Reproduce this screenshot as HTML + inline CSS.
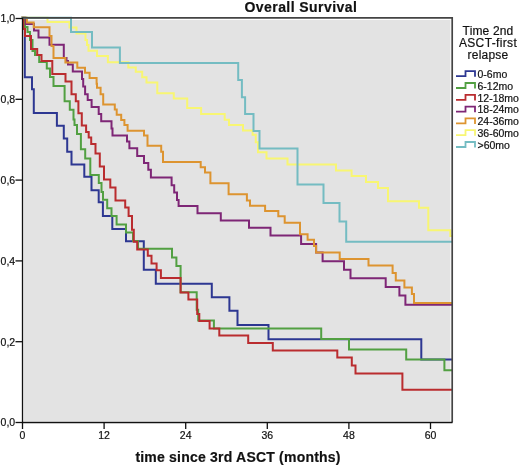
<!DOCTYPE html>
<html><head><meta charset="utf-8"><style>
html,body{margin:0;padding:0;background:#fff;width:520px;height:466px;overflow:hidden}
svg{display:block}
text{font-family:"Liberation Sans",sans-serif;fill:#111;stroke:#111;stroke-width:0.2px}
.t10{font-size:10.5px}
.t11{font-size:10.5px}
.t12{font-size:12px}
.tb14{font-size:14px;font-weight:bold}
</style></head><body>
<svg width="520" height="466" viewBox="0 0 520 466">
<rect x="0" y="0" width="520" height="466" fill="#ffffff"/>
<rect x="23.6" y="20" width="426.8" height="401.2" fill="#e3e3e3"/>
<path d="M22.5,17.8 L24.8,17.8 L24.8,77.2 L32.0,77.2 L32.0,89.2 L33.8,89.2 L33.8,113.0 L56.9,113.0 L56.9,125.8 L63.8,125.8 L63.8,138.5 L67.2,138.5 L67.2,151.8 L71.5,151.8 L71.5,164.6 L84.3,164.6 L84.3,176.7 L91.5,176.7 L91.5,190.2 L98.7,190.2 L98.7,202.3 L102.9,202.3 L102.9,216.0 L112.3,216.0 L112.3,228.9 L126.0,228.9 L126.0,241.3 L143.8,241.3 L143.8,269.8 L155.8,269.8 L155.8,283.8 L211.8,283.8 L211.8,297.3 L229.4,297.3 L229.4,310.8 L237.5,310.8 L237.5,324.9 L268.5,324.9 L268.5,339.2 L421.3,339.2 L421.3,359.6 L452.0,359.6" fill="none" stroke="#2d3792" stroke-width="2" stroke-linejoin="miter" stroke-linecap="square"/>
<path d="M22.5,17.8 L25.0,17.8 L25.0,27.0 L27.5,27.0 L27.5,32.0 L30.0,32.0 L30.0,40.0 L32.5,40.0 L32.5,51.0 L35.0,51.0 L35.0,55.0 L39.2,55.0 L39.2,62.0 L46.8,62.0 L46.8,68.5 L50.0,68.5 L50.0,77.0 L53.5,77.0 L53.5,86.0 L64.6,86.0 L64.6,101.2 L69.8,101.2 L69.8,109.8 L73.5,109.8 L73.5,119.5 L74.5,119.5 L74.5,125.0 L77.0,125.0 L77.0,134.0 L80.9,134.0 L80.9,149.2 L85.2,149.2 L85.2,158.6 L90.3,158.6 L90.3,175.0 L98.8,175.0 L98.8,183.0 L101.5,183.0 L101.5,192.0 L103.0,192.0 L103.0,199.7 L107.2,199.7 L107.2,208.3 L111.5,208.3 L111.5,216.0 L116.6,216.0 L116.6,224.6 L126.0,224.6 L126.0,232.4 L133.0,232.4 L133.0,241.0 L138.0,241.0 L138.0,248.7 L172.0,248.7 L172.0,257.5 L176.4,257.5 L176.4,266.0 L180.6,266.0 L180.6,292.3 L196.7,292.3 L196.7,309.7 L198.2,309.7 L198.2,320.4 L213.9,320.4 L213.9,328.4 L321.2,328.4 L321.2,339.0 L349.0,339.0 L349.0,349.5 L406.2,349.5 L406.2,359.6 L444.4,359.6 L444.4,370.2 L452.0,370.2" fill="none" stroke="#52a042" stroke-width="2" stroke-linejoin="miter" stroke-linecap="square"/>
<path d="M22.5,17.8 L23.4,17.8 L23.4,29.0 L25.0,29.0 L25.0,36.0 L31.0,36.0 L31.0,48.9 L37.2,48.9 L37.2,54.9 L41.5,54.9 L41.5,61.0 L52.3,61.0 L52.3,74.0 L65.5,74.0 L65.5,81.5 L71.5,81.5 L71.5,94.3 L75.8,94.3 L75.8,101.2 L78.4,101.2 L78.4,113.2 L81.8,113.2 L81.8,125.5 L86.1,125.5 L86.1,132.0 L88.7,132.0 L88.7,137.5 L91.2,137.5 L91.2,144.0 L95.5,144.0 L95.5,153.5 L99.8,153.5 L99.8,166.4 L104.0,166.4 L104.0,179.5 L110.3,179.5 L110.3,187.5 L115.5,187.5 L115.5,200.6 L125.2,200.6 L125.2,207.5 L128.6,207.5 L128.6,216.0 L132.0,216.0 L132.0,229.8 L133.8,229.8 L133.8,241.8 L137.2,241.8 L137.2,249.5 L147.8,249.5 L147.8,255.7 L151.5,255.7 L151.5,263.5 L156.6,263.5 L156.6,270.3 L160.9,270.3 L160.9,278.0 L180.6,278.0 L180.6,292.5 L188.4,292.5 L188.4,299.5 L197.2,299.5 L197.2,314.0 L199.3,314.0 L199.3,320.9 L209.6,320.9 L209.6,328.4 L219.3,328.4 L219.3,335.5 L248.2,335.5 L248.2,343.0 L272.8,343.0 L272.8,350.5 L337.3,350.5 L337.3,357.5 L351.8,357.5 L351.8,365.5 L355.5,365.5 L355.5,373.5 L402.4,373.5 L402.4,389.8 L452.0,389.8" fill="none" stroke="#ba2c2f" stroke-width="2" stroke-linejoin="miter" stroke-linecap="square"/>
<path d="M22.5,17.8 L26.0,17.8 L26.0,24.0 L34.0,24.0 L34.0,30.5 L38.5,30.5 L38.5,37.5 L49.5,37.5 L49.5,44.7 L63.8,44.7 L63.8,58.0 L66.5,58.0 L66.5,61.0 L68.0,61.0 L68.0,64.5 L72.8,64.5 L72.8,71.5 L82.0,71.5 L82.0,79.0 L83.2,79.0 L83.2,86.4 L85.1,86.4 L85.1,94.2 L87.7,94.2 L87.7,100.0 L91.6,100.0 L91.6,107.0 L98.7,107.0 L98.7,114.1 L101.2,114.1 L101.2,121.2 L111.5,121.2 L111.5,128.5 L112.5,128.5 L112.5,135.4 L127.0,135.4 L127.0,141.5 L129.4,141.5 L129.4,148.3 L137.2,148.3 L137.2,156.0 L144.0,156.0 L144.0,163.0 L148.3,163.0 L148.3,169.8 L150.9,169.8 L150.9,177.5 L171.6,177.5 L171.6,185.2 L174.2,185.2 L174.2,192.5 L177.0,192.5 L177.0,200.0 L178.6,200.0 L178.6,206.1 L197.5,206.1 L197.5,213.2 L220.8,213.2 L220.8,220.6 L249.0,220.6 L249.0,227.8 L270.5,227.8 L270.5,235.4 L301.1,235.4 L301.1,244.0 L316.1,244.0 L316.1,252.6 L322.6,252.6 L322.6,261.2 L344.0,261.2 L344.0,269.7 L350.5,269.7 L350.5,278.3 L385.7,278.3 L385.7,286.9 L399.4,286.9 L399.4,295.5 L405.4,295.5 L405.4,304.7 L452.0,304.7" fill="none" stroke="#7e2676" stroke-width="2" stroke-linejoin="miter" stroke-linecap="square"/>
<path d="M22.5,17.8 L26.9,17.8 L26.9,22.4 L33.7,22.4 L33.7,27.2 L49.5,27.2 L49.5,36.0 L51.5,36.0 L51.5,46.0 L53.5,46.0 L53.5,58.0 L65.4,58.0 L65.4,62.5 L77.3,62.5 L77.3,67.7 L85.0,67.7 L85.0,72.8 L89.6,72.8 L89.6,78.0 L96.6,78.0 L96.6,83.8 L97.0,83.8 L97.0,87.7 L100.6,87.7 L100.6,94.2 L103.2,94.2 L103.2,104.5 L114.8,104.5 L114.8,109.6 L116.7,109.6 L116.7,114.8 L121.2,114.8 L121.2,119.9 L124.4,119.9 L124.4,125.0 L127.6,125.0 L127.6,130.7 L144.0,130.7 L144.0,135.5 L147.5,135.5 L147.5,145.8 L161.2,145.8 L161.2,151.8 L163.0,151.8 L163.0,162.1 L200.7,162.1 L200.7,167.2 L205.0,167.2 L205.0,172.5 L210.4,172.5 L210.4,183.3 L228.6,183.3 L228.6,194.2 L246.9,194.2 L246.9,200.4 L250.0,200.4 L250.0,205.8 L265.1,205.8 L265.1,211.0 L278.3,211.0 L278.3,216.3 L284.7,216.3 L284.7,222.7 L300.0,222.7 L300.0,234.3 L307.6,234.3 L307.6,239.7 L314.0,239.7 L314.0,246.1 L316.1,246.1 L316.1,252.6 L339.7,252.6 L339.7,259.0 L368.5,259.0 L368.5,265.6 L392.6,265.6 L392.6,272.9 L395.8,272.9 L395.8,280.4 L404.4,280.4 L404.4,287.5 L411.9,287.5 L411.9,294.0 L414.0,294.0 L414.0,303.0 L452.0,303.0" fill="none" stroke="#dd9430" stroke-width="2" stroke-linejoin="miter" stroke-linecap="square"/>
<path d="M22.5,17.8 L47.5,17.8 L47.5,22.0 L69.5,22.0 L69.5,27.5 L76.5,27.5 L76.5,33.5 L85.5,33.5 L85.5,40.0 L87.0,40.0 L87.0,45.0 L88.5,45.0 L88.5,50.8 L97.0,50.8 L97.0,56.0 L107.9,56.0 L107.9,62.2 L128.3,62.2 L128.3,67.6 L135.8,67.6 L135.8,71.8 L142.2,71.8 L142.2,77.2 L146.5,77.2 L146.5,82.6 L157.3,82.6 L157.3,93.3 L173.8,93.3 L173.8,98.5 L187.2,98.5 L187.2,108.0 L201.1,108.0 L201.1,114.0 L224.7,114.0 L224.7,119.7 L229.0,119.7 L229.0,125.1 L243.0,125.1 L243.0,130.5 L252.6,130.5 L252.6,134.8 L255.8,134.8 L255.8,142.3 L258.0,142.3 L258.0,152.2 L266.5,152.2 L266.5,158.6 L287.5,158.6 L287.5,164.5 L336.0,164.5 L336.0,170.4 L351.6,170.4 L351.6,176.0 L366.0,176.0 L366.0,182.0 L378.0,182.0 L378.0,188.0 L388.0,188.0 L388.0,201.3 L419.0,201.3 L419.0,207.7 L428.3,207.7 L428.3,230.3 L450.3,230.3 L450.3,236.0 L452.0,236.0" fill="none" stroke="#f8f672" stroke-width="2" stroke-linejoin="miter" stroke-linecap="square"/>
<path d="M22.5,17.8 L71.0,17.8 L71.0,32.0 L92.0,32.0 L92.0,47.6 L119.9,47.6 L119.9,63.0 L238.2,63.0 L238.2,80.0 L241.9,80.0 L241.9,97.2 L245.1,97.2 L245.1,114.0 L253.5,114.0 L253.5,131.0 L259.5,131.0 L259.5,148.4 L297.5,148.4 L297.5,184.4 L323.5,184.4 L323.5,202.9 L339.5,202.9 L339.5,221.5 L346.2,221.5 L346.2,241.8 L452.0,241.8" fill="none" stroke="#74bcc2" stroke-width="2" stroke-linejoin="miter" stroke-linecap="square"/>
<path d="M22.5,17.8 H452.2 V422.5" fill="none" stroke="#444" stroke-width="1.7"/>
<path d="M22.5,17.5 V422.5 H452.5" fill="none" stroke="#111" stroke-width="1.3"/>
<line x1="15.5" y1="422.5" x2="22.5" y2="422.5" stroke="#111" stroke-width="1.3"/>
<line x1="15.5" y1="341.7" x2="22.5" y2="341.7" stroke="#111" stroke-width="1.3"/>
<line x1="15.5" y1="260.9" x2="22.5" y2="260.9" stroke="#111" stroke-width="1.3"/>
<line x1="15.5" y1="180.1" x2="22.5" y2="180.1" stroke="#111" stroke-width="1.3"/>
<line x1="15.5" y1="99.3" x2="22.5" y2="99.3" stroke="#111" stroke-width="1.3"/>
<line x1="15.5" y1="18.5" x2="22.5" y2="18.5" stroke="#111" stroke-width="1.3"/>
<line x1="22.5" y1="422.5" x2="22.5" y2="429" stroke="#111" stroke-width="1.3"/>
<line x1="104.1" y1="422.5" x2="104.1" y2="429" stroke="#111" stroke-width="1.3"/>
<line x1="185.7" y1="422.5" x2="185.7" y2="429" stroke="#111" stroke-width="1.3"/>
<line x1="267.3" y1="422.5" x2="267.3" y2="429" stroke="#111" stroke-width="1.3"/>
<line x1="348.9" y1="422.5" x2="348.9" y2="429" stroke="#111" stroke-width="1.3"/>
<line x1="430.5" y1="422.5" x2="430.5" y2="429" stroke="#111" stroke-width="1.3"/>
<path d="M456,76.2 H465.5 V71.2 H475 V76.8" fill="none" stroke="#2d3792" stroke-width="1.8"/>
<path d="M456,88.0 H465.5 V83.0 H475 V88.6" fill="none" stroke="#52a042" stroke-width="1.8"/>
<path d="M456,99.8 H465.5 V94.8 H475 V100.4" fill="none" stroke="#ba2c2f" stroke-width="1.8"/>
<path d="M456,111.6 H465.5 V106.6 H475 V112.2" fill="none" stroke="#7e2676" stroke-width="1.8"/>
<path d="M456,123.4 H465.5 V118.4 H475 V124.0" fill="none" stroke="#dd9430" stroke-width="1.8"/>
<path d="M456,135.2 H465.5 V130.2 H475 V135.8" fill="none" stroke="#f8f672" stroke-width="1.8"/>
<path d="M456,147.0 H465.5 V142.0 H475 V147.6" fill="none" stroke="#74bcc2" stroke-width="1.8"/>
<g style="filter:grayscale(1)">
<text x="15.2" y="426.3" text-anchor="end" class="t11">0,0</text>
<text x="15.2" y="345.5" text-anchor="end" class="t11">0,2</text>
<text x="15.2" y="264.7" text-anchor="end" class="t11">0,4</text>
<text x="15.2" y="183.9" text-anchor="end" class="t11">0,6</text>
<text x="15.2" y="103.1" text-anchor="end" class="t11">0,8</text>
<text x="15.2" y="22.3" text-anchor="end" class="t11">1,0</text>
<text x="22.5" y="439" text-anchor="middle" class="t10">0</text>
<text x="104.1" y="439" text-anchor="middle" class="t10">12</text>
<text x="185.7" y="439" text-anchor="middle" class="t10">24</text>
<text x="267.3" y="439" text-anchor="middle" class="t10">36</text>
<text x="348.9" y="439" text-anchor="middle" class="t10">48</text>
<text x="430.5" y="439" text-anchor="middle" class="t10">60</text>
<text x="244.5" y="11.5" class="tb14" style="letter-spacing:0.43px">Overall Survival</text>
<text x="135.4" y="461.5" class="tb14" style="letter-spacing:0.21px">time since 3rd ASCT (months)</text>
<text x="488" y="34.9" text-anchor="middle" class="t12" style="letter-spacing:0.15px">Time 2nd</text>
<text x="488" y="47.2" text-anchor="middle" class="t12" style="letter-spacing:0.35px">ASCT-first</text>
<text x="488" y="59.1" text-anchor="middle" class="t12" style="letter-spacing:0.2px">relapse</text>
<text x="477.5" y="78.0" class="t10">0-6mo</text>
<text x="477.5" y="89.8" class="t10">6-12mo</text>
<text x="477.5" y="101.6" class="t10">12-18mo</text>
<text x="477.5" y="113.4" class="t10">18-24mo</text>
<text x="477.5" y="125.2" class="t10">24-36mo</text>
<text x="477.5" y="137.0" class="t10">36-60mo</text>
<text x="477.5" y="148.8" class="t10">>60mo</text>
</g>
</svg>
</body></html>
